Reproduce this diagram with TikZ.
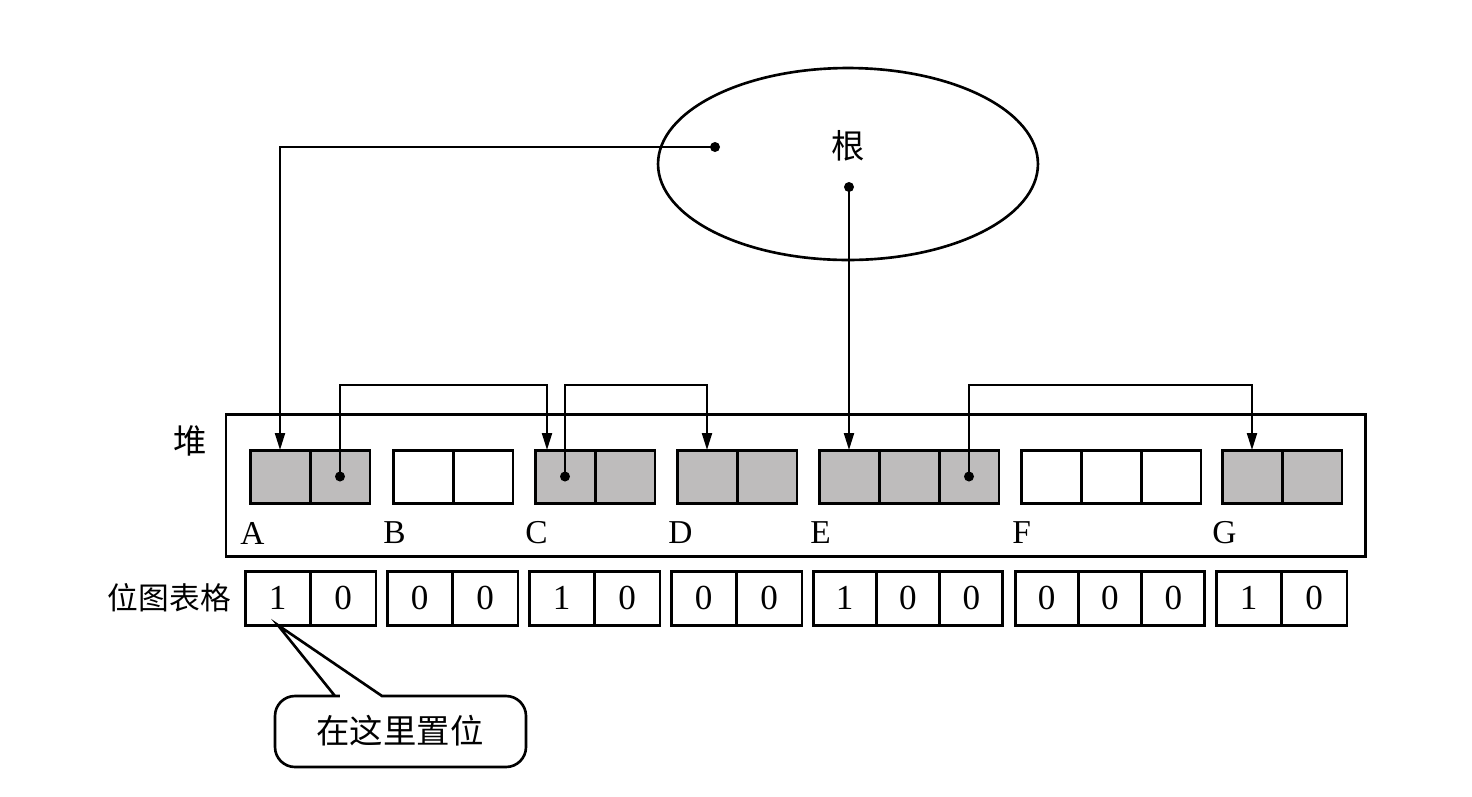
\documentclass[tikz,border=0pt]{standalone}
\usepackage{fontspec}
\setmainfont{Liberation Serif}
\newfontfamily\cjk{Noto Sans CJK SC}
\usetikzlibrary{shapes.geometric, arrows.meta}
\definecolor{cellgray}{RGB}{190,188,188}

\begin{document}
\begin{tikzpicture}[x=0.02cm, y=-0.02cm, every node/.style={font=\fontsize{19}{21}\selectfont}]
  \tikzstyle{cell} = [draw, line width=1.7pt, minimum width=1.2cm, minimum height=1.06cm, inner sep=0pt, outer sep=0pt]
  \tikzstyle{full} = [cell, fill=cellgray]
  \tikzstyle{bit} = [draw, line width=1.7pt, minimum width=1.31cm, minimum height=1.08cm, inner sep=0pt, outer sep=0pt, font=\fontsize{20}{20}\selectfont]
  \tikzstyle{bit3} = [bit, minimum width=1.266cm]
  \tikzstyle{lbl} = [anchor=west, inner sep=0pt, font=\fontsize{19}{19}\selectfont]
  \tikzstyle{ptr} = [->, >={Triangle[length=0.34cm, width=0.2cm]}, line width=1.2pt]
  \useasboundingbox (0,0) rectangle (1472,796);

  % root set
  \node[draw, ellipse, line width=1.5pt, minimum width=7.6cm, minimum height=3.84cm] (root) at (848,164) {};
  \node (rootlbl) at (848,146) {\cjk 根};
  \coordinate (r1) at (715,147);
  \coordinate (r2) at (849,187);

  % heap
  \draw[line width=1.7pt] (226,414) rectangle (1365,556);
  \node (heap) at (190,441) {\cjk 堆};
  \node[full] (A1) at (280,476.5) {};
  \node[full] (A2) at (340,476.5) {};
  \node[cell] (B1) at (423,476.5) {};
  \node[cell] (B2) at (483,476.5) {};
  \node[full] (C1) at (565,476.5) {};
  \node[full] (C2) at (625,476.5) {};
  \node[full] (D1) at (707,476.5) {};
  \node[full] (D2) at (767,476.5) {};
  \node[full] (E1) at (849,476.5) {};
  \node[full] (E2) at (909,476.5) {};
  \node[full] (E3) at (969,476.5) {};
  \node[cell] (F1) at (1051,476.5) {};
  \node[cell] (F2) at (1111,476.5) {};
  \node[cell] (F3) at (1171,476.5) {};
  \node[full] (G1) at (1252,476.5) {};
  \node[full] (G2) at (1312,476.5) {};
  \node[lbl] (lA) at (240,533) {A};
  \node[lbl] (lB) at (383,533) {B};
  \node[lbl] (lC) at (525,533) {C};
  \node[lbl] (lD) at (668,533) {D};
  \node[lbl] (lE) at (810,533) {E};
  \node[lbl] (lF) at (1012,533) {F};
  \node[lbl] (lG) at (1212,533) {G};

  % bitmap table
  \node[anchor=east, font=\fontsize{17.5}{19}\selectfont] (bmp) at (237,598) {\cjk 位图表格};
  \node[bit] (a1) at (277.75,598) {1};
  \node[bit] (a2) at (343.25,598) {0};
  \node[bit] (b1) at (419.75,598) {0};
  \node[bit] (b2) at (485.25,598) {0};
  \node[bit] (c1) at (561.75,598) {1};
  \node[bit] (c2) at (627.25,598) {0};
  \node[bit] (d1) at (703.75,598) {0};
  \node[bit] (d2) at (769.25,598) {0};
  \node[bit3] (e1) at (844.7,598) {1};
  \node[bit3] (e2) at (908,598) {0};
  \node[bit3] (e3) at (971.3,598) {0};
  \node[bit3] (f1) at (1046.7,598) {0};
  \node[bit3] (f2) at (1110,598) {0};
  \node[bit3] (f3) at (1173.3,598) {0};
  \node[bit] (g1) at (1248.75,598) {1};
  \node[bit] (g2) at (1314.25,598) {0};

  % pointers
  \coordinate (bridge) at (340,385);
  \draw[ptr] (r1) -| (A1.north);
  \draw[ptr] (r2) -- (E1.north);
  \draw[ptr] (A2.center) -- (bridge) -| ([xshift=-0.36cm]C1.north);
  \draw[ptr] (C1.center) -- (C1.center |- bridge) -| (D1.north);
  \draw[ptr] (E3.center) -- (E3.center |- bridge) -| (G1.north);
  \foreach \p in {r1, r2, A2.center, C1.center, E3.center}
    \fill (\p) circle[radius=0.1cm];

  % callout
  \draw[line width=1.5pt] (335,696) -- (a1.south) -- (382,696) -- (400,696)
    [rounded corners=0.4cm] -- (526,696) -- (526,767) -- (275,767) -- (275,696) -- (320,696)
    [sharp corners] -- cycle;
  \node (note) at (400,731) {\cjk 在这里置位};
\end{tikzpicture}
\end{document}
